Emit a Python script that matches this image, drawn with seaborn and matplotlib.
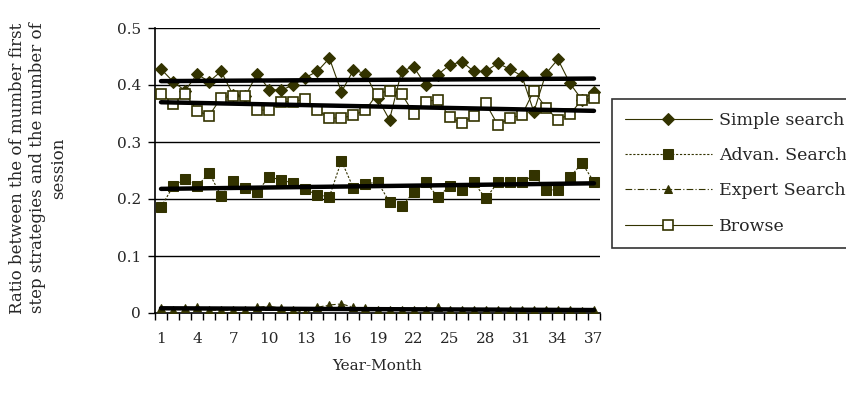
import numpy as np
import pandas as pd
import seaborn as sb
from matplotlib import pyplot as plt

"""DATA"""

months = list(range(1, 38))

simple_search = [0.428, 0.406, 0.390, 0.419, 0.406, 0.424, 0.382, 0.380, 0.420, 0.392,
                 0.391, 0.400, 0.413, 0.424, 0.447, 0.388, 0.426, 0.420, 0.377, 0.339,
                 0.424, 0.432, 0.400, 0.418, 0.435, 0.441, 0.424, 0.424, 0.438, 0.428,
                 0.416, 0.353, 0.420, 0.445, 0.403, 0.374, 0.388]

advan_search = [0.186, 0.222, 0.235, 0.222, 0.246, 0.205, 0.232, 0.219, 0.213, 0.239,
                0.233, 0.228, 0.217, 0.207, 0.204, 0.267, 0.219, 0.226, 0.230, 0.195,
                0.187, 0.212, 0.230, 0.204, 0.222, 0.216, 0.229, 0.201, 0.229, 0.229,
                0.229, 0.242, 0.216, 0.216, 0.238, 0.263, 0.230]

expert_search = [0.008, 0.006, 0.008, 0.010, 0.005, 0.005, 0.005, 0.005, 0.010, 0.012,
                 0.008, 0.006, 0.000, 0.010, 0.014, 0.016, 0.010, 0.008, 0.005, 0.005,
                 0.005, 0.006, 0.005, 0.010, 0.005, 0.005, 0.005, 0.006, 0.005, 0.005,
                 0.005, 0.005, 0.005, 0.006, 0.005, 0.004, 0.006]

browse = [0.385, 0.367, 0.385, 0.355, 0.346, 0.378, 0.380, 0.380, 0.356, 0.356,
          0.371, 0.371, 0.375, 0.356, 0.342, 0.342, 0.347, 0.356, 0.385, 0.390,
          0.385, 0.350, 0.371, 0.374, 0.344, 0.333, 0.346, 0.368, 0.330, 0.342,
          0.347, 0.390, 0.360, 0.339, 0.349, 0.374, 0.377]

x_labels = [1, 4, 7, 10, 13, 16, 19, 22, 25, 28, 31, 34, 37]

"""STYLE"""

sb.set_style("ticks")
plt.rcParams['font.family'] = ['DejaVu Serif']
olive = "#333300"

series = [
    ("Simple search", simple_search, dict(marker="D", linestyle="-", markersize=6.5,
                                          markerfacecolor=olive, markeredgecolor=olive)),
    ("Advan. Search", advan_search, dict(marker="s", linestyle=(0, (2, 1.5)), markersize=7,
                                         markerfacecolor=olive, markeredgecolor=olive)),
    ("Expert Search", expert_search, dict(marker="^", linestyle=(0, (6, 2, 1, 2)), markersize=6,
                                          markerfacecolor=olive, markeredgecolor=olive)),
    ("Browse", browse, dict(marker="s", linestyle="-", markersize=7,
                            markerfacecolor="white", markeredgecolor=olive, markeredgewidth=1.2)),
]

fig = plt.figure(figsize=(8.46, 3.94), dpi=100)
ax = fig.add_axes([155 / 846, 1 - 313 / 394, 445 / 846, 285 / 394])

# horizontal gridlines
for g in [0.1, 0.2, 0.3, 0.4, 0.5]:
    ax.axhline(g, color="black", lw=1.0, zorder=1)

handles = []
for name, vals, kw in series:
    df = pd.DataFrame({"month": months, "ratio": vals})
    sb.lineplot(x="month", y="ratio", data=df, ax=ax, color=olive, lw=0.8, zorder=3, **kw)
    handles.append(ax.lines[-1])

# linear trend lines
for name, vals, kw in series:
    df = pd.DataFrame({"month": months, "ratio": vals})
    sb.regplot(x="month", y="ratio", data=df, ax=ax, scatter=False, ci=None,
               color="black", line_kws=dict(lw=3.2, zorder=4))

ax.set_xlim(0.5, 37.5)
ax.set_ylim(0, 0.5)

# category boundaries as tick marks, labels in the middle
ax.set_xticks(np.arange(0.5, 38, 1.0))
ax.set_xticklabels([])
ax.set_xticks(x_labels, minor=True)
ax.set_xticklabels([str(v) for v in x_labels], minor=True)
ax.tick_params(axis="x", which="major", direction="out", length=5, width=1, color="black")
ax.tick_params(axis="x", which="minor", length=0, pad=14, labelsize=11)

ax.set_yticks([0, 0.1, 0.2, 0.3, 0.4, 0.5])
ax.set_yticklabels(["0", "0.1", "0.2", "0.3", "0.4", "0.5"])
ax.tick_params(axis="y", direction="out", length=5, width=1, color="black", labelsize=11, pad=5)

for s in ["top", "right"]:
    ax.spines[s].set_visible(False)
ax.spines["left"].set_color("black")
ax.spines["bottom"].set_color("black")
ax.spines["left"].set_linewidth(1.2)
ax.spines["bottom"].set_linewidth(1.2)

ax.set_xlabel("Year-Month", fontsize=11, labelpad=9)
ax.set_ylabel("")
fig.text(38 / 846, 1 - 168 / 394,
         "Ratio between the of mumber first\nstep strategies and the mumber of\nsession",
         rotation=90, ha="center", va="center", fontsize=12, linespacing=1.3)

leg = fig.legend(handles, [s[0] for s in series], loc="upper left",
                 bbox_to_anchor=(612 / 846, 1 - 99 / 394), frameon=True, fontsize=12.5,
                 handlelength=5.0, labelspacing=1.05, borderpad=0.75, handletextpad=0.4,
                 fancybox=False, borderaxespad=0)
leg.get_frame().set_edgecolor("black")
leg.get_frame().set_linewidth(1.2)

plt.savefig("out.png", dpi=100)
plt.close()
